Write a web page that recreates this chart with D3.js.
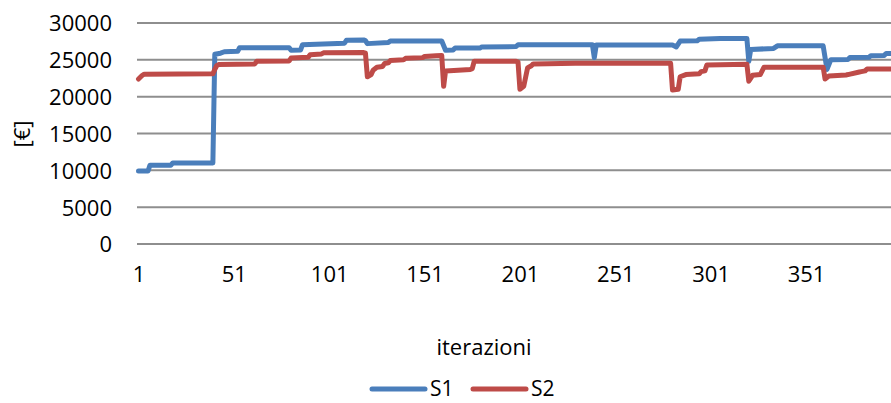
<!DOCTYPE html>
<html><head><meta charset="utf-8">
<script src="https://cdn.jsdelivr.net/npm/d3@7"></script>
<style>body{margin:0;background:#fff;overflow:hidden}svg{display:block;font-family:"Open Sans",sans-serif}</style>
</head><body><svg id="c" width="891" height="403"></svg>
<script>
const xTicks = [1, 51, 101, 151, 201, 251, 301, 351];
const yTicks = [0, 5000, 10000, 15000, 20000, 25000, 30000];
const seriesNames = ["S1", "S2"];
const s1Iter = [1,6,7,18,19,40,41,44,46,53,54,80,81,86,87,109,110,119,120,121,132,133,160,162,166,167,180,181,199,200,239,240,241,281,283,285,294,295,306,320,321,322,334,336,360,362,364,373,374,384,385,392,393,400];
const s1Val  = [9900,9900,10700,10700,11000,11000,25750,25900,26100,26150,26650,26650,26300,26350,27050,27250,27650,27700,27600,27200,27350,27550,27550,26300,26350,26600,26600,26750,26800,27050,27050,25300,27000,27000,26750,27550,27600,27800,27900,27900,24800,26400,26550,26900,26900,23700,25000,25050,25300,25350,25550,25600,25850,25850];
const s2Iter = [1,3,4,40,41,42,43,62,63,80,81,90,91,97,98,119,120,121,123,124,126,129,130,132,133,140,141,150,151,157,160,161,162,175,176,177,199,200,201,203,205,207,208,230,280,281,284,285,288,295,296,298,299,320,321,323,327,328,329,360,361,363,372,373,379,380,382,383,400];
const s2Val  = [22400,22900,23050,23100,23700,24200,24350,24450,24800,24850,25250,25350,25700,25800,25950,26000,25900,22700,23000,23600,24000,24100,24500,24600,24900,25000,25200,25300,25450,25550,25600,21400,23500,23700,23800,24800,24800,24700,21000,21400,23900,24200,24450,24550,24550,20900,21000,22700,23000,23100,23400,23500,24300,24400,22100,22900,23000,23500,24000,24000,22400,22800,22950,23000,23350,23400,23500,23750,23750];
const xTitle = "iterazioni";
const yTitle = "[€]";
const colors = ["#4A7EBB", "#BE4B48"];

const svg = d3.select("#c");
const x = d3.scaleLinear().domain([1, 351]).range([138.5, 806]);
const y = d3.scaleLinear().domain([0, 30000]).range([244, 23]);
const plotLeft = 137, plotRight = 891;

// gridlines
svg.append("g").selectAll("line").data(yTicks).join("line")
  .attr("x1", plotLeft).attr("x2", plotRight)
  .attr("y1", d => y(d)).attr("y2", d => y(d))
  .attr("stroke", "#8e8e8e").attr("stroke-width", 2);

// y axis labels
const ya = svg.append("g").attr("transform", "translate(112,0)")
  .call(d3.axisLeft(y).tickValues(yTicks).tickSize(0).tickPadding(0).tickFormat(d3.format("d")));
ya.select(".domain").remove();
ya.selectAll("text").attr("font-size", 22).attr("font-family", "Open Sans").attr("fill", "#000").attr("dy", "0.36em");

// x axis labels
const xa = svg.append("g").attr("transform", "translate(0,266)")
  .call(d3.axisBottom(x).tickValues(xTicks).tickSize(0).tickPadding(0).tickFormat(d3.format("d")));
xa.select(".domain").remove();
xa.selectAll("text").attr("font-size", 22).attr("font-family", "Open Sans").attr("fill", "#000");

// titles
svg.append("text").attr("x", 484).attr("y", 355).attr("text-anchor", "middle")
  .attr("font-size", 22).text(xTitle);
svg.append("text").attr("transform", "translate(30,134) rotate(-90)").attr("text-anchor", "middle")
  .attr("font-size", 22).text(yTitle);

// lines
const line = d3.line().x(d => x(d[0])).y(d => y(d[1]));
const data = [d3.zip(s1Iter, s1Val), d3.zip(s2Iter, s2Val)];
svg.append("g").selectAll("path").data(data).join("path")
  .attr("d", line).attr("fill", "none")
  .attr("stroke", (d, i) => colors[i]).attr("stroke-width", 5)
  .attr("stroke-linejoin", "round").attr("stroke-linecap", "round");

// legend
const leg = svg.append("g").selectAll("g").data(seriesNames).join("g")
  .attr("transform", (d, i) => `translate(${372 + i * 101},389)`);
leg.append("line").attr("x1", 0).attr("x2", 53).attr("y1", 0).attr("y2", 0)
  .attr("stroke", (d, i) => colors[i]).attr("stroke-width", 5).attr("stroke-linecap", "round");
leg.append("text").attr("x", 58).attr("y", 7).attr("font-size", 21).text(d => d);
</script></body></html>
